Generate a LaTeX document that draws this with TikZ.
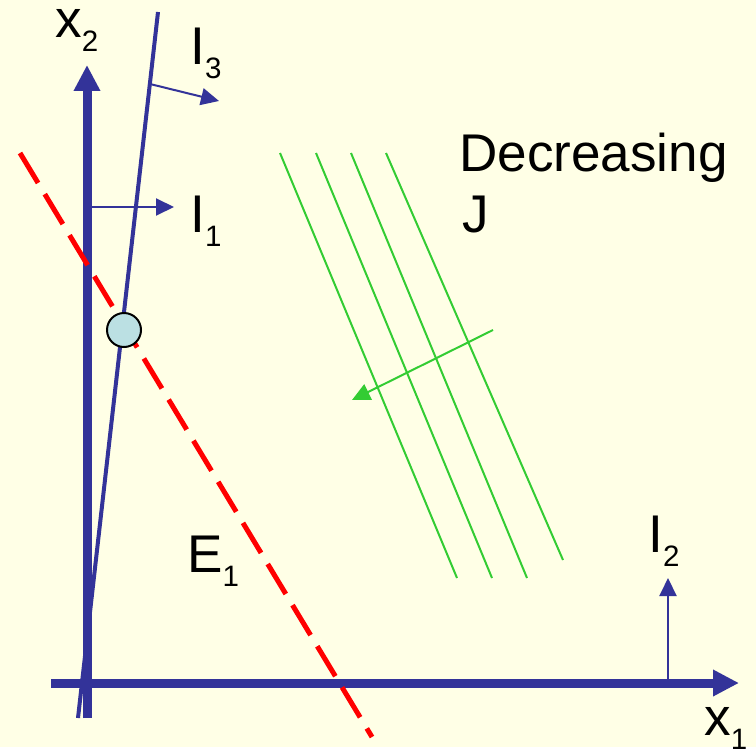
\documentclass[tikz,border=0pt]{standalone}
\usepackage{fontspec}
\setmainfont{Liberation Sans}
\usetikzlibrary{arrows.meta, positioning, calc}

\definecolor{bgcream}{RGB}{255,255,230}
\definecolor{axisblue}{RGB}{51,51,153}
\definecolor{contgreen}{RGB}{51,204,51}
\definecolor{optblue}{RGB}{187,224,227}

\newcommand{\subidx}[1]{\raisebox{-0.28cm}{\fontsize{16.8}{18}\selectfont #1}}

\begin{document}
\begin{tikzpicture}[x=0.02cm, y=-0.02cm,
  axis/.style={axisblue, line width=0.18cm, -{Triangle[length=0.52cm, width=0.5cm]}},
  normal/.style={axisblue, line width=0.04cm, -{Triangle[length=0.36cm, width=0.34cm]}},
  lbl/.style={anchor=base west, inner sep=0pt, font=\fontsize{30.2}{36}\selectfont},
  contour/.style={contgreen, line width=0.04cm}]
\fill[bgcream] (0,0) rectangle (756,747);

% axes
\coordinate (o2) at (87,718);
\coordinate (top2) at (87,65);
\coordinate (o1) at (51,683);
\coordinate (end1) at (739,683);
\draw[axis] (o2) -- (top2);
\draw[axis] (o1) -- (end1);

% constraint normals
\coordinate (i1a) at (87,207);
\coordinate (i1b) at (174,207);
\draw[normal] (i1a) -- (i1b);
\coordinate (i2a) at (668,683);
\coordinate (i2b) at (668,578);
\draw[normal] (i2a) -- (i2b);
\coordinate (i3a) at (150,84);
\coordinate (i3b) at (219,101);
\draw[normal] (i3a) -- (i3b);

% objective contours
\foreach \xt/\xb/\yb in {280/457/578, 316/492/578, 351/527/578, 386/563/560}
  \draw[contour] (\xt,153) -- (\xb,\yb);
\coordinate (ja) at (493,330);
\coordinate (jb) at (352,400);
\draw[contour, -{Triangle[length=0.36cm, width=0.34cm]}] (ja) -- (jb);

% equality and inequality lines
\coordinate (e1a) at (20,153);
\coordinate (e1b) at (372,737);
\draw[red, line width=0.1cm, dash pattern=on 0.7cm off 0.26cm] (e1a) -- (e1b);
\coordinate (i3top) at (158,12);
\coordinate (i3bot) at (78,718);
\draw[axisblue, line width=0.08cm] (i3top) -- (i3bot);

% optimum
\node[circle, draw=black, line width=0.04cm, fill=optblue, minimum size=0.68cm, inner sep=0pt] (opt) at (124,330) {};

% labels
\node[lbl] (lx2) at (55,38) {x\subidx{2}};
\node[lbl] (lx1) at (704,735) {x\subidx{1}};
\node[lbl] (li3) at (190,65) {I\subidx{3}};
\node[lbl] (li1) at (190,233) {I\subidx{1}};
\node[lbl] (li2) at (648,552) {I\subidx{2}};
\node[lbl] (le1) at (187,572) {E\subidx{1}};
\node[lbl] (dec) at (459,172) {Decreasing};
\node[lbl] (decj) at (462,233) {J};
\end{tikzpicture}
\end{document}
